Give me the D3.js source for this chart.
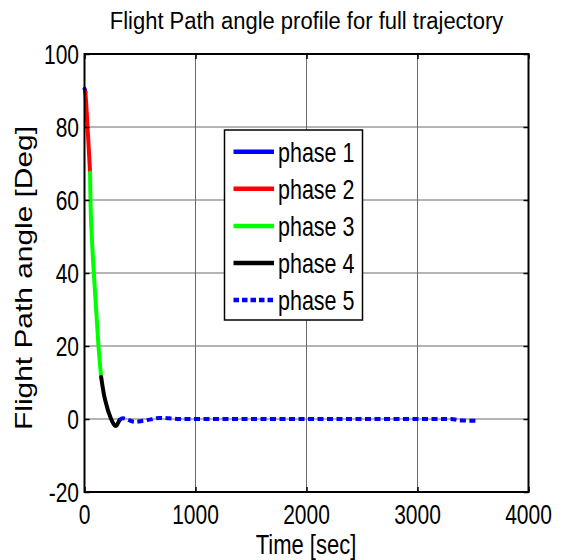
<!DOCTYPE html>
<html>
<head>
<meta charset="utf-8">
<script src="https://cdn.jsdelivr.net/npm/d3@7"></script>
<style>
  body { margin: 0; background: #fff; }
  svg { display: block; }
  text { font-family: "Liberation Sans", Arial, Helvetica, sans-serif; fill: #000; }
</style>
</head>
<body>
<svg id="chart" width="566" height="560"></svg>
<script>
// Axis ticks
const xTicks = [0, 1000, 2000, 3000, 4000];
const yTicks = [-20, 0, 20, 40, 60, 80, 100];

// Flight path angle (deg) versus time (s) for each trajectory phase
const phaseNames = ["phase 1", "phase 2", "phase 3", "phase 4", "phase 5"];
const phase1Time  = [0, 4, 8];
const phase1Angle = [90.5, 90.2, 89.6];
const phase2Time  = [8, 15, 22, 27, 35, 42, 50];
const phase2Angle = [89.6, 86.5, 83, 80, 76, 72, 67.5];
const phase3Time  = [50, 54, 66, 84, 105, 126, 150];
const phase3Angle = [67.5, 60, 50, 40, 30, 20, 11.5];
const phase4Time  = [150, 165, 180, 195, 210, 225, 240, 255, 270, 285, 300, 315];
const phase4Angle = [11.5, 8.5, 6, 4.2, 2.5, 1.2, 0, -1, -1.7, -1.9, -1.2, -0.3];
const phase5Time  = [315, 345, 400, 450, 525, 600, 675, 760, 855, 1500, 2500, 3300, 3400, 3530];
const phase5Angle = [-0.3, 0.2, -0.3, -0.8, -0.5, -0.1, 0.3, 0.2, 0, 0, 0, 0, -0.4, -0.5];

const phaseTimes  = [phase1Time, phase2Time, phase3Time, phase4Time, phase5Time];
const phaseAngles = [phase1Angle, phase2Angle, phase3Angle, phase4Angle, phase5Angle];
const phaseColors = ["#0000ff", "#ff0000", "#00ff00", "#000000", "#0000ff"];
const phaseDashed = [false, false, false, false, true];

const svg = d3.select("#chart");
const plotLeft = 84.5, plotRight = 528.5, plotTop = 54, plotBottom = 492;

const x = d3.scaleLinear().domain([0, 4000]).range([plotLeft, plotRight]);
const y = d3.scaleLinear().domain([-20, 100]).range([plotBottom, plotTop]);

// text drawn with a vertical stretch
function label(parent, px, py, str, size, sy, anchor) {
  return parent.append("text")
    .attr("transform", `translate(${px},${py}) scale(1,${sy})`)
    .attr("font-size", size)
    .attr("text-anchor", anchor)
    .text(str);
}

// Title
label(svg, 306.5, 28.5, "Flight Path angle profile for full trajectory", 22, 1.12, "middle");

// Grid
const grid = svg.append("g").attr("stroke", "#6a6a6a").attr("stroke-width", 1);
grid.selectAll("line.gx").data(xTicks.slice(1, -1)).join("line")
  .attr("x1", d => x(d)).attr("x2", d => x(d))
  .attr("y1", plotTop).attr("y2", plotBottom);
grid.selectAll("line.gy").data(yTicks.slice(1, -1)).join("line")
  .attr("x1", plotLeft).attr("x2", plotRight)
  .attr("y1", d => y(d)).attr("y2", d => y(d));

// Phase curves
const line = d3.line().x(d => x(d[0])).y(d => y(d[1])).curve(d3.curveMonotoneX);
const curves = svg.append("g").attr("fill", "none");
phaseTimes.forEach((ts, i) => {
  const pts = ts.map((t, j) => [t, phaseAngles[i][j]]);
  curves.append("path")
    .attr("d", line(pts))
    .attr("stroke", phaseColors[i])
    .attr("stroke-width", 4)
    .attr("stroke-linejoin", "round")
    .attr("stroke-linecap", phaseDashed[i] ? "butt" : "round")
    .attr("stroke-dasharray", phaseDashed[i] ? "6,3.5" : null);
});

// Axes with inward ticks on all four sides
svg.append("g").attr("transform", `translate(0,${plotBottom})`)
  .call(d3.axisBottom(x).tickValues(xTicks).tickSize(-5).tickFormat(""))
  .call(g => g.select(".domain").remove());
svg.append("g").attr("transform", `translate(0,${plotTop})`)
  .call(d3.axisTop(x).tickValues(xTicks).tickSize(-5).tickFormat(""))
  .call(g => g.select(".domain").remove());
svg.append("g").attr("transform", `translate(${plotLeft},0)`)
  .call(d3.axisLeft(y).tickValues(yTicks).tickSize(-5).tickFormat(""))
  .call(g => g.select(".domain").remove());
svg.append("g").attr("transform", `translate(${plotRight},0)`)
  .call(d3.axisRight(y).tickValues(yTicks).tickSize(-5).tickFormat(""))
  .call(g => g.select(".domain").remove());
svg.selectAll(".tick line").attr("stroke", "#000").attr("stroke-width", 1.5);

svg.append("rect")
  .attr("x", plotLeft).attr("y", plotTop)
  .attr("width", plotRight - plotLeft).attr("height", plotBottom - plotTop)
  .attr("fill", "none").attr("stroke", "#000").attr("stroke-width", 2);

// Tick labels
const tl = svg.append("g");
yTicks.forEach(v => label(tl, 79, y(v) + 9.8, String(v), 21, 1.33, "end"));
xTicks.forEach(v => label(tl, x(v), 524, String(v), 21, 1.33, "middle"));

// Axis titles
label(svg, 306, 553.5, "Time [sec]", 22, 1.22, "middle");
svg.append("text")
  .attr("transform", "translate(31.5,278) rotate(-90) scale(1.3,1)")
  .attr("font-size", 23)
  .attr("text-anchor", "middle")
  .text("Flight Path angle [Deg]");

// Legend
const lg = svg.append("g");
lg.append("rect")
  .attr("x", 224.5).attr("y", 130).attr("width", 138).attr("height", 190)
  .attr("fill", "#fff").attr("stroke", "#000").attr("stroke-width", 1.5);
phaseNames.forEach((name, i) => {
  const ly = 151.7 + i * 37.1;
  lg.append("line")
    .attr("x1", 233.5).attr("x2", 274)
    .attr("y1", ly).attr("y2", ly)
    .attr("stroke", phaseColors[i]).attr("stroke-width", 4.5)
    .attr("stroke-dasharray", phaseDashed[i] ? "5.5,3" : null);
  label(lg, 278, ly + 10, name, 21.5, 1.3, "start");
});
</script>
</body>
</html>
